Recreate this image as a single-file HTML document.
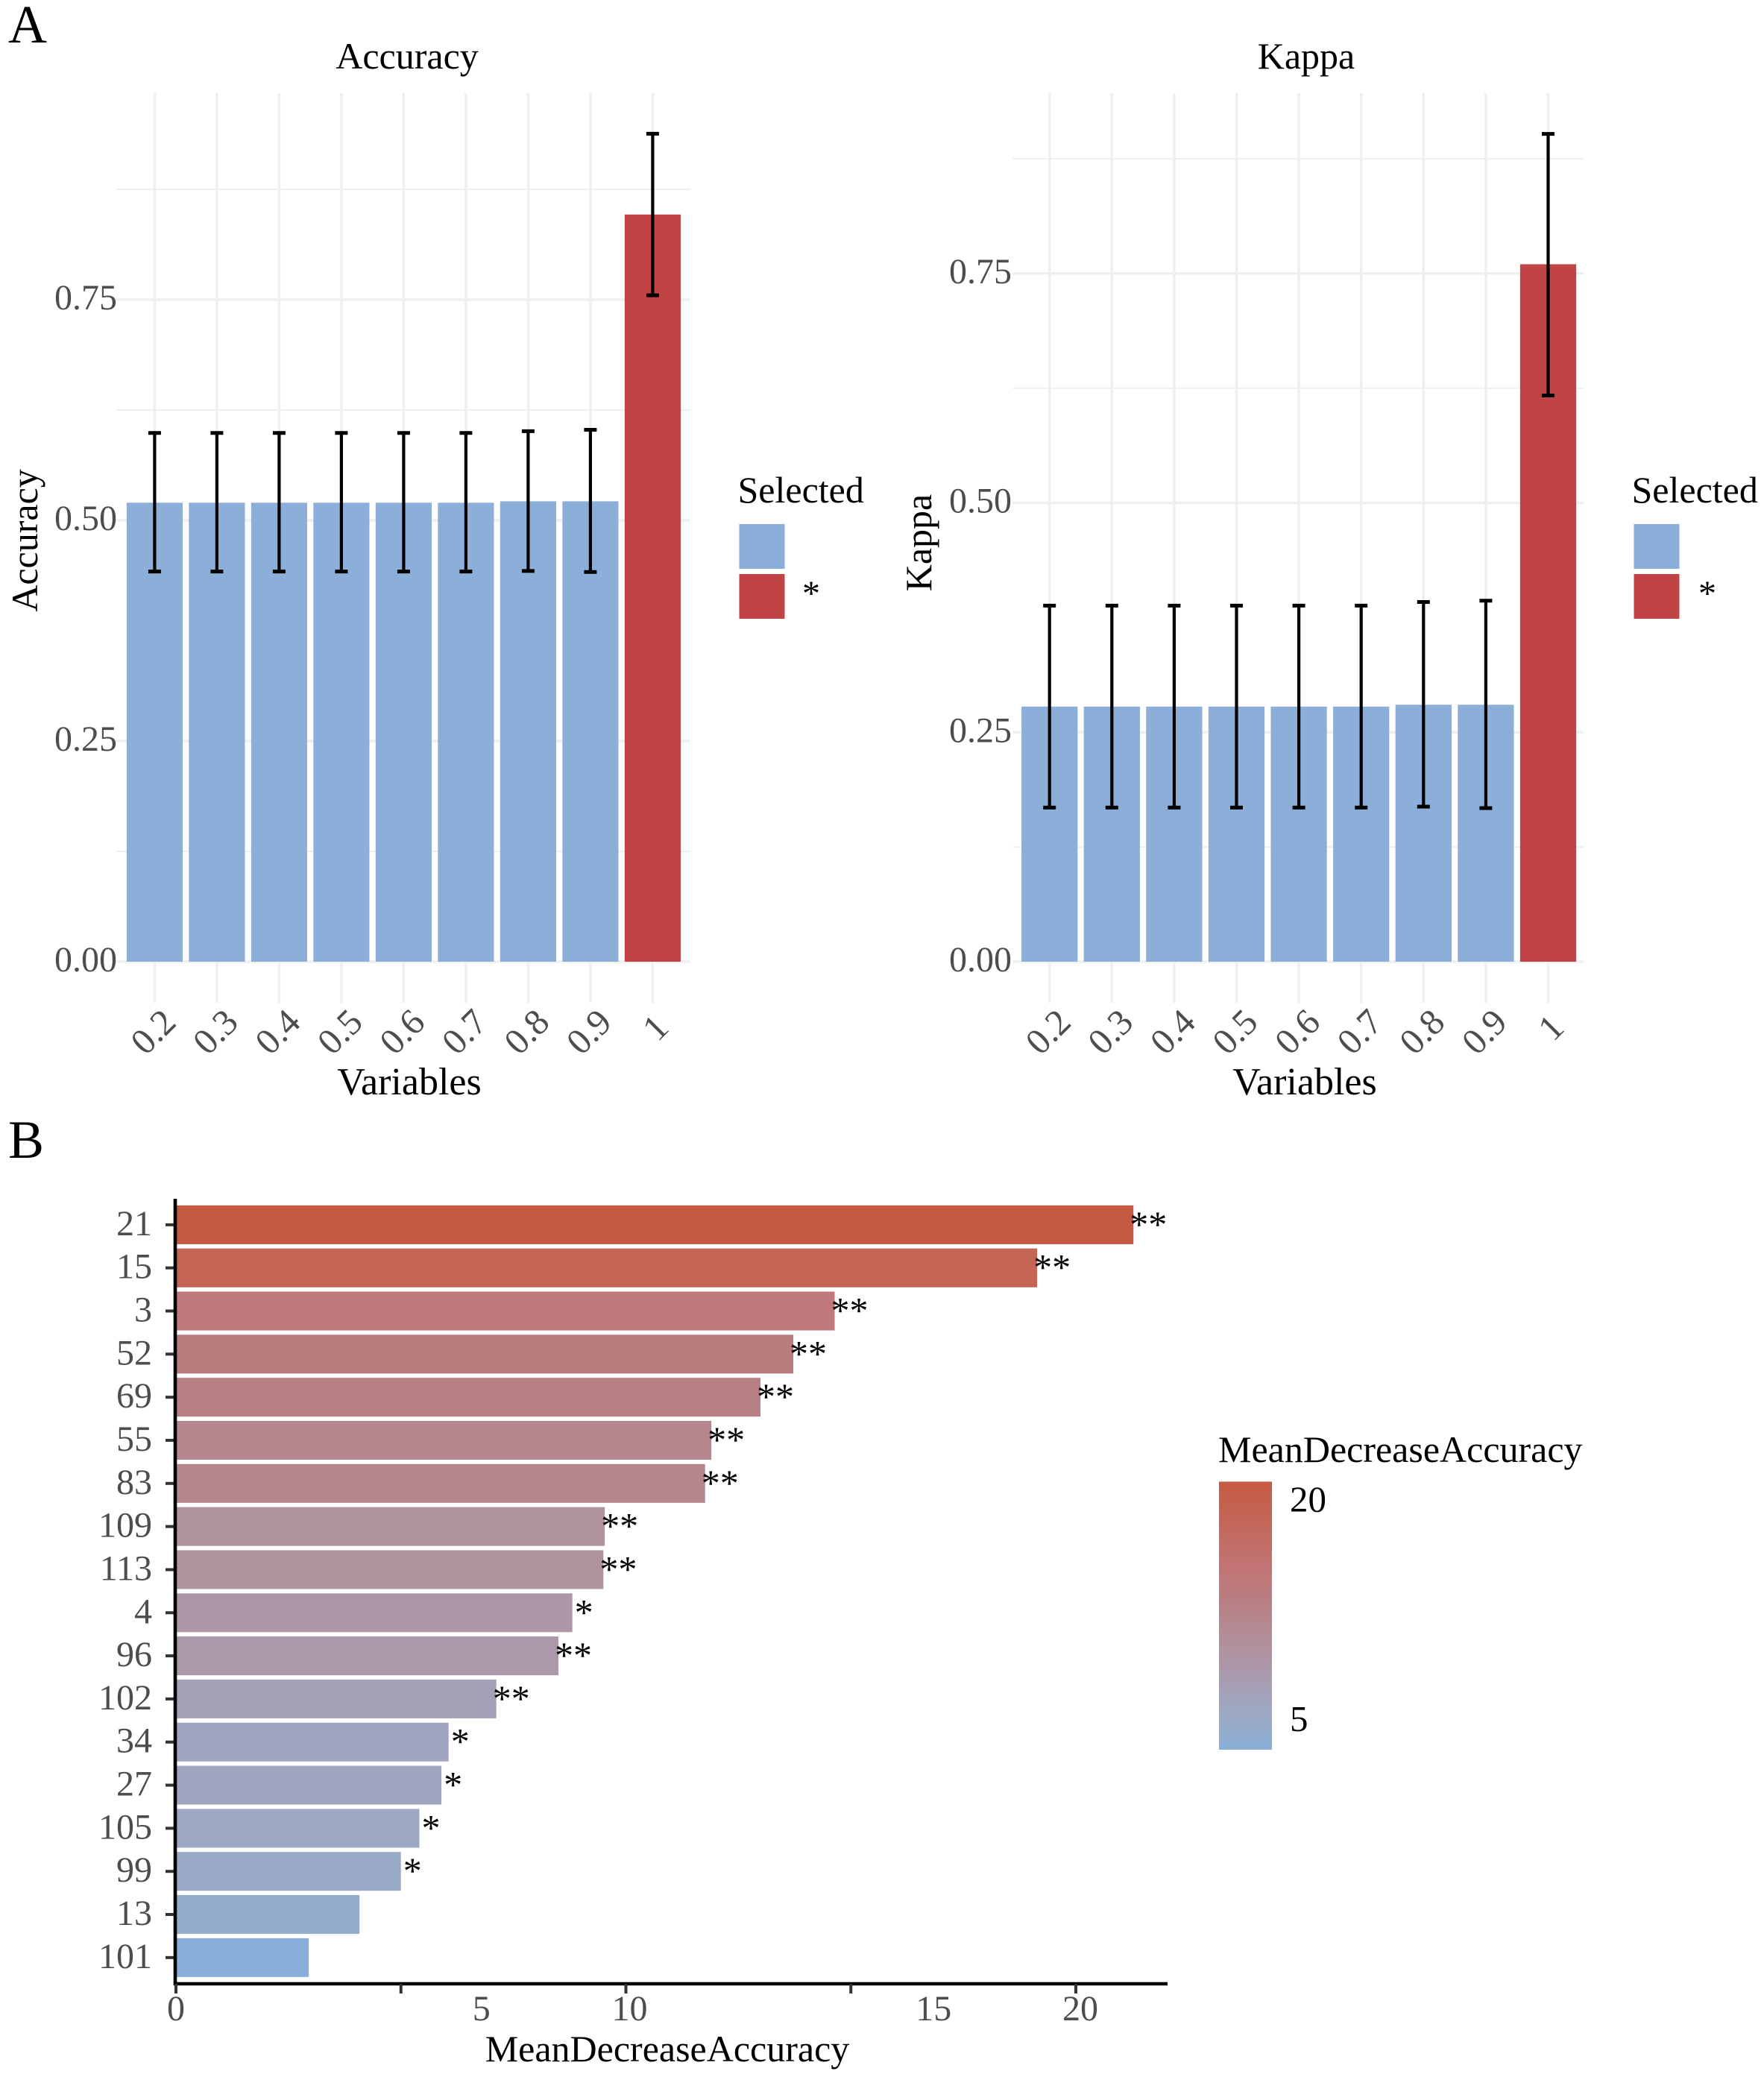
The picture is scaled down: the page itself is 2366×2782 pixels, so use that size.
<!DOCTYPE html>
<html lang="en">
<head>
<meta charset="utf-8">
<title>Variable selection accuracy, kappa and mean decrease accuracy</title>
<style>
html,body{margin:0;padding:0;background:#fff;width:2366px;height:2782px;overflow:hidden}
svg{display:block}
text{font-family:"Liberation Serif","Times New Roman",serif}
</style>
</head>
<body>
<svg id="figure" xmlns="http://www.w3.org/2000/svg" width="2366" height="2782" viewBox="0 0 2366 2782">
  <rect x="0" y="0" width="2366" height="2782" fill="#ffffff"/>
  <text x="11" y="57" font-size="72" fill="#000">A</text>
  <text x="11" y="1553" font-size="72" fill="#000">B</text>
  <text x="546" y="92" font-size="50" text-anchor="middle" fill="#000">Accuracy</text>
  <text x="1752" y="92" font-size="50" text-anchor="middle" fill="#000">Kappa</text>
  <text transform="translate(50 725) rotate(-90)" font-size="50" text-anchor="middle" fill="#000">Accuracy</text>
  <text transform="translate(1249 728) rotate(-90)" font-size="50" text-anchor="middle" fill="#000">Kappa</text>
  <text x="549" y="1468" font-size="52" text-anchor="middle" fill="#000">Variables</text>
  <text x="1750" y="1468" font-size="52" text-anchor="middle" fill="#000">Variables</text>

  <g>
    <text x="989.5" y="674" font-size="50" fill="#000">Selected</text>
    <rect x="991.5" y="703" width="61" height="60" fill="#8BAFD8"/>
    <rect x="991.5" y="770" width="61" height="60" fill="#C04345"/>
    <text x="1088" y="812" font-size="48" text-anchor="middle" fill="#000">*</text>
  </g>
  <g>
    <text x="2188.5" y="674" font-size="50" fill="#000">Selected</text>
    <rect x="2191.5" y="703" width="61" height="60" fill="#8BAFD8"/>
    <rect x="2191.5" y="770" width="61" height="60" fill="#C04345"/>
    <text x="2290" y="812" font-size="48" text-anchor="middle" fill="#000">*</text>
  </g>

  <g id="panel-accuracy"></g>
  <g id="panel-kappa"></g>
  <g id="panel-importance"></g>

  <text x="895" y="2765" font-size="50" text-anchor="middle" fill="#000">MeanDecreaseAccuracy</text>
  <text x="1634" y="1961" font-size="50" fill="#000">MeanDecreaseAccuracy</text>
</svg>
<script>
// ---- Panel A data ----
const variableCategories = ['0.2','0.3','0.4','0.5','0.6','0.7','0.8','0.9','1'];
const selectedFlags = ['','','','','','','','','*'];
const accuracyValues = [0.520,0.520,0.520,0.520,0.520,0.520,0.5216,0.5216,0.8465];
const accuracyUpper  = [0.599,0.599,0.599,0.599,0.599,0.599,0.601,0.6026,0.938];
const accuracyLower  = [0.442,0.442,0.442,0.442,0.442,0.442,0.4427,0.4415,0.755];
const kappaValues = [0.278,0.278,0.278,0.278,0.278,0.278,0.280,0.280,0.760];
const kappaUpper  = [0.388,0.388,0.388,0.388,0.388,0.388,0.392,0.3934,0.902];
const kappaLower  = [0.168,0.168,0.168,0.168,0.168,0.168,0.169,0.1673,0.617];
const yMajorTicks = [0,0.25,0.5,0.75];
const yMajorLabels = ['0.00','0.25','0.50','0.75'];
const yMinorTicks = [0.125,0.625,0.875];

// ---- Panel B data ----
const featureNames = ['21','15','3','52','69','55','83','109','113','4','96','102','34','27','105','99','13','101'];
const featureImportance = [21.28,19.14,14.64,13.72,12.99,11.90,11.76,9.53,9.50,8.81,8.50,7.12,6.06,5.90,5.41,5.00,4.08,2.95];
const featureStars = ['**','**','**','**','**','**','**','**','**','*','**','**','*','*','*','*','',''];
const importanceTicks = [0,5,10,15,20];
const importanceTickLabels = ['0','5','10','15','20'];
const colorbarTicks = [20,5];
const colorbarTickLabels = ['20','5'];

const SVGNS = 'http://www.w3.org/2000/svg';
function make(parent, tag, attrs, content) {
  const el = document.createElementNS(SVGNS, tag);
  for (const k in attrs) el.setAttribute(k, attrs[k]);
  if (content !== undefined) el.textContent = content;
  parent.appendChild(el);
  return el;
}

function drawBarPanel(cfg) {
  const g = document.getElementById(cfg.id);
  const xPos = i => cfg.x0 + i * cfg.step;
  const yPos = v => cfg.yZero - v * cfg.yScale;
  const barW = cfg.step * 0.9;

  yMinorTicks.forEach(t => {
    const l = make(g, 'line', {x1: cfg.left, x2: cfg.right, y1: yPos(t), y2: yPos(t), stroke: '#EFEFEF', 'stroke-width': 2});
    
    
  });
  yMajorTicks.forEach(t => {
    const l = make(g, 'line', {x1: cfg.left, x2: cfg.right, y1: yPos(t), y2: yPos(t), stroke: '#EFEFEF', 'stroke-width': 3.5});
    
    
  });
  variableCategories.forEach((c, i) => {
    const l = make(g, 'line', {x1: xPos(i), x2: xPos(i), y1: 125, y2: 1345, stroke: '#EFEFEF', 'stroke-width': 3.5});
    
    
  });
  variableCategories.forEach((c, i) => {
    const top = yPos(cfg.values[i]);
    const r = make(g, 'rect', {x: xPos(i) - barW / 2, y: top, width: barW, height: cfg.yZero - top,
      fill: selectedFlags[i] === '*' ? '#C04345' : '#8BAFD8'});
    
    
  });
  variableCategories.forEach((c, i) => {
    const x = xPos(i), yU = yPos(cfg.upper[i]), yL = yPos(cfg.lower[i]);
    const eg = make(g, 'g', {stroke: '#000', fill: 'none'});
    
    
    make(eg, 'line', {x1: x, x2: x, y1: yU, y2: yL, 'stroke-width': 4.2});
    make(eg, 'line', {x1: x - 8.5, x2: x + 8.5, y1: yU, y2: yU, 'stroke-width': 5});
    make(eg, 'line', {x1: x - 8.5, x2: x + 8.5, y1: yL, y2: yL, 'stroke-width': 5});
  });
  yMajorTicks.forEach((t, i) => {
    const tx = make(g, 'text', {x: cfg.labelRight, y: yPos(t) + 13, 'font-size': 48, 'text-anchor': 'end', fill: '#4D4D4D'}, yMajorLabels[i]);
    
    
  });
  variableCategories.forEach((c, i) => {
    const tx = make(g, 'text', {'font-size': 49, 'text-anchor': 'end', fill: '#4D4D4D'}, c);
    
    
    const w = tx.getComputedTextLength();
    const px = xPos(i) + 19 + 0.28 * w * 0.7071;
    const py = 1386 - 0.28 * w * 0.7071;
    tx.setAttribute('x', px);
    tx.setAttribute('y', py);
    tx.setAttribute('transform', 'rotate(-45 ' + px + ' ' + py + ')');
  });
}

drawBarPanel({id: 'panel-accuracy', prefix: 'accuracy', x0: 207.4, step: 83.5, yZero: 1290, yScale: 1184,
  left: 155, right: 925.5, labelRight: 157,
  values: accuracyValues, upper: accuracyUpper, lower: accuracyLower});
drawBarPanel({id: 'panel-kappa', prefix: 'kappa', x0: 1407.7, step: 83.6, yZero: 1290, yScale: 1231,
  left: 1358.5, right: 2124.5, labelRight: 1357,
  values: kappaValues, upper: kappaUpper, lower: kappaLower});

// ---- Panel B drawing ----
const colorStops = [
  [2.95,[136,175,217]],[4.07,[147,173,204]],[5.41,[157,169,196]],[7.12,[166,160,182]],
  [8.81,[173,150,168]],[9.5,[175,148,160]],[11.8,[181,135,143]],[13.7,[186,123,126]],
  [14.62,[192,120,122]],[19.12,[196,100,84]],[21.26,[197,90,66]]
];
function colorFor(v) {
  if (v <= colorStops[0][0]) return 'rgb(' + colorStops[0][1].join(',') + ')';
  for (let i = 1; i < colorStops.length; i++) {
    if (v <= colorStops[i][0]) {
      const a = colorStops[i - 1], b = colorStops[i];
      const t = (v - a[0]) / (b[0] - a[0]);
      return 'rgb(' + a[1].map((c, k) => Math.round(c + (b[1][k] - c) * t)).join(',') + ')';
    }
  }
  return 'rgb(' + colorStops[colorStops.length - 1][1].join(',') + ')';
}

(function drawImportance() {
  const g = document.getElementById('panel-importance');
  const svg = document.getElementById('figure');
  const axisX = 235, axisY = 2661, barStart = 236, pxPerUnit = 60.35;
  const xPos = v => barStart + v * pxPerUnit;
  const yPos = i => 1642.9 + i * 57.82;
  const barH = 57.82 * 0.9;

  featureNames.forEach((name, i) => {
    const y = yPos(i), v = featureImportance[i];
    const r = make(g, 'rect', {x: barStart, y: y - barH / 2, width: xPos(v) - barStart, height: barH, fill: colorFor(v)});
    
    

    const t = make(g, 'line', {x1: 222, x2: axisX, y1: y, y2: y, stroke: '#333', 'stroke-width': 4});
    
    

    const l = make(g, 'text', {x: 204, y: y + 14, 'font-size': 48, 'text-anchor': 'end', fill: '#4D4D4D'}, name);
    
    

    if (featureStars[i]) {
      const offset = featureStars[i].length === 2 ? 20 : 15.5;
      const s = make(g, 'text', {x: xPos(v) + offset, y: y + 16, 'font-size': 50, 'text-anchor': 'middle', fill: '#000'}, featureStars[i]);
      
      
    }
  });

  const ya = make(g, 'line', {x1: axisX, x2: axisX, y1: 1608, y2: axisY + 2, stroke: '#000', 'stroke-width': 4.6});
  
  
  const xa = make(g, 'line', {x1: axisX - 2, x2: 1566, y1: axisY, y2: axisY, stroke: '#000', 'stroke-width': 4.6});
  
  

  // The printed "5" and "15" labels sit away from their tick marks in the source figure.
  const labelNudge = {'0': 0, '5': 108, '10': 5, '15': 111, '20': 6};
  importanceTicks.forEach((v, i) => {
    const x = xPos(v);
    const t = make(g, 'line', {x1: x, x2: x, y1: axisY, y2: axisY + 13, stroke: '#333', 'stroke-width': 4});
    
    
    const label = importanceTickLabels[i];
    const l = make(g, 'text', {x: x + labelNudge[label], y: 2710, 'font-size': 48, 'text-anchor': 'middle', fill: '#4D4D4D'}, label);
    
    
  });

  // Colour bar
  const cbTop = 1987.4, cbBottom = 2347;
  const vMax = Math.max(...featureImportance), vMin = Math.min(...featureImportance);
  const cbY = v => cbBottom - (v - vMin) / (vMax - vMin) * (cbBottom - cbTop);
  const defs = make(svg, 'defs', {});
  const grad = make(defs, 'linearGradient', {id: 'colorbar-gradient', x1: 0, x2: 0, y1: 1, y2: 0});
  colorStops.forEach(s => {
    const off = (s[0] - vMin) / (vMax - vMin);
    make(grad, 'stop', {offset: Math.max(0, Math.min(1, off)), 'stop-color': 'rgb(' + s[1].join(',') + ')'});
  });
  const cb = make(g, 'rect', {x: 1635, y: cbTop, width: 71, height: cbBottom - cbTop, fill: 'url(#colorbar-gradient)'});
  
  
  colorbarTicks.forEach((v, i) => {
    const l = make(g, 'text', {x: 1730, y: cbY(v) + 15, 'font-size': 49, fill: '#000'}, colorbarTickLabels[i]);
    
    
  });
})();
</script>
</body>
</html>
